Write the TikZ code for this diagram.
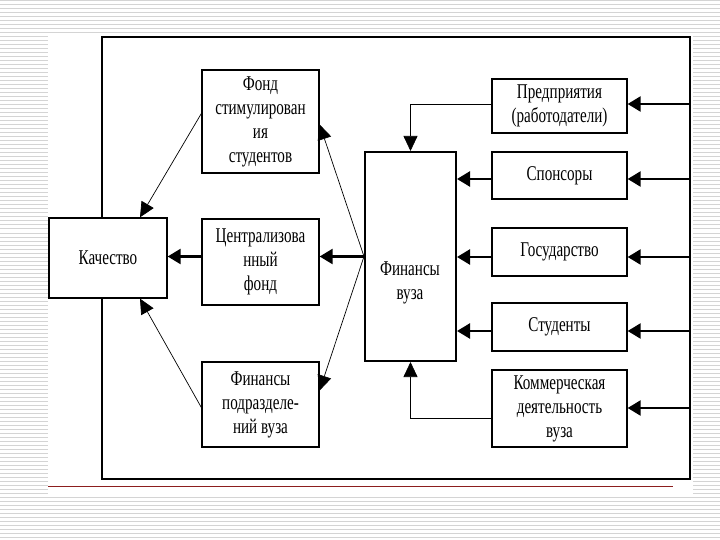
\documentclass[tikz,border=0pt]{standalone}
\usepackage{fontspec}
\setmainfont{Liberation Serif}[FakeStretch=0.72]
\usetikzlibrary{arrows.meta}
\definecolor{stripe}{RGB}{212,212,212}
\definecolor{redline}{RGB}{140,30,30}
\begin{document}
\begin{tikzpicture}[x=1pt,y=-1pt,
  box/.style={draw, line width=1.3pt, fill=white, align=center, inner sep=0pt,
              font=\fontsize{21}{24}\selectfont},
  txt/.style={align=center, inner sep=0pt, font=\fontsize{21}{24}\selectfont},
  thk/.style={line width=2.4pt, -{Triangle[length=13pt,width=15pt]}},
  thn/.style={line width=0.7pt, -{Triangle[length=15pt,width=14pt]}},
  frame/.style={line width=2pt}
  ]
\useasboundingbox (0,0) rectangle (720,540);
% background stripes
\foreach \y in {1,5,...,539} \draw[stripe, line width=1pt] (0,\y) -- (720,\y);
\fill[white] (48,33) rectangle (693,495);
\draw[redline, line width=1pt] (48,486) -- (673,486);
% outer frame
\draw[frame] (102,37) rectangle (690,479);
% left boxes
\node[box, minimum width=118pt, minimum height=80pt] (kach) at (108,258) {\raisebox{-7pt}{Качество}};
\node[box, minimum width=117pt, minimum height=103pt] (fond) at (260.5,121.5) {Фонд\\стимулирован\\ия\\студентов};
\node[box, minimum width=117pt, minimum height=86pt] (centr) at (260.5,262) {Централизова\\нный\\фонд};
\node[box, minimum width=117pt, minimum height=85pt] (podr) at (260.5,404.5) {Финансы\\подразделе-\\ний вуза};
% center box
\node[box, line width=2pt, minimum width=91pt, minimum height=209pt] (fin) at (410.5,256.5) {};
\node[txt] (fintext) at (410,283) {Финансы\\вуза};
% right boxes
\node[box, minimum width=135pt, minimum height=54pt] (pred) at (559.5,106) {Предприятия\\(работодатели)};
\node[box, minimum width=135pt, minimum height=47pt] (spon) at (559.5,175.5) {Спонсоры};
\node[box, minimum width=135pt, minimum height=48pt] (gos) at (559.5,252) {Государство};
\node[box, minimum width=135pt, minimum height=48pt] (stud) at (559.5,327) {Студенты};
\node[box, minimum width=135pt, minimum height=77pt] (komm) at (559.5,408.5) {Коммерческая\\деятельность\\вуза};
% frame coordinates
\coordinate (r1) at (690,104);
\coordinate (r2) at (690,179);
\coordinate (r3) at (690,257);
\coordinate (r4) at (690,331);
\coordinate (r5) at (690,408);
\draw[thk] (r1) -- (r1 -| pred.east);
\draw[thk] (r2) -- (r2 -| spon.east);
\draw[thk] (r3) -- (r3 -| gos.east);
\draw[thk] (r4) -- (r4 -| stud.east);
\draw[thk] (r5) -- (r5 -| komm.east);
% right boxes to finance
\draw[thk] (r2 -| spon.west) -- (r2 -| fin.east);
\draw[thk] (r3 -| gos.west) -- (r3 -| fin.east);
\draw[thk] (r4 -| stud.west) -- (r4 -| fin.east);
\draw[thn] ([yshift=2pt]pred.west) -| (fin.north);
\draw[thn] ([yshift=-10pt]komm.west) -| (fin.south);
% finance to left boxes
\draw[thk] (fin.west) -- (fin.west -| centr.east);
\draw[thn] (fin.west) -- ([yshift=-3pt]fond.east);
\draw[thn] (fin.west) -- ([yshift=14pt]podr.east);
% left boxes to quality
\draw[thk] (fin.west -| centr.west) -- (fin.west -| kach.east);
\draw[thn] ([yshift=8pt]fond.west) -- ([xshift=32pt]kach.north);
\draw[thn] ([yshift=-3pt]podr.west) -- ([xshift=32pt]kach.south);
\end{tikzpicture}
\end{document}
